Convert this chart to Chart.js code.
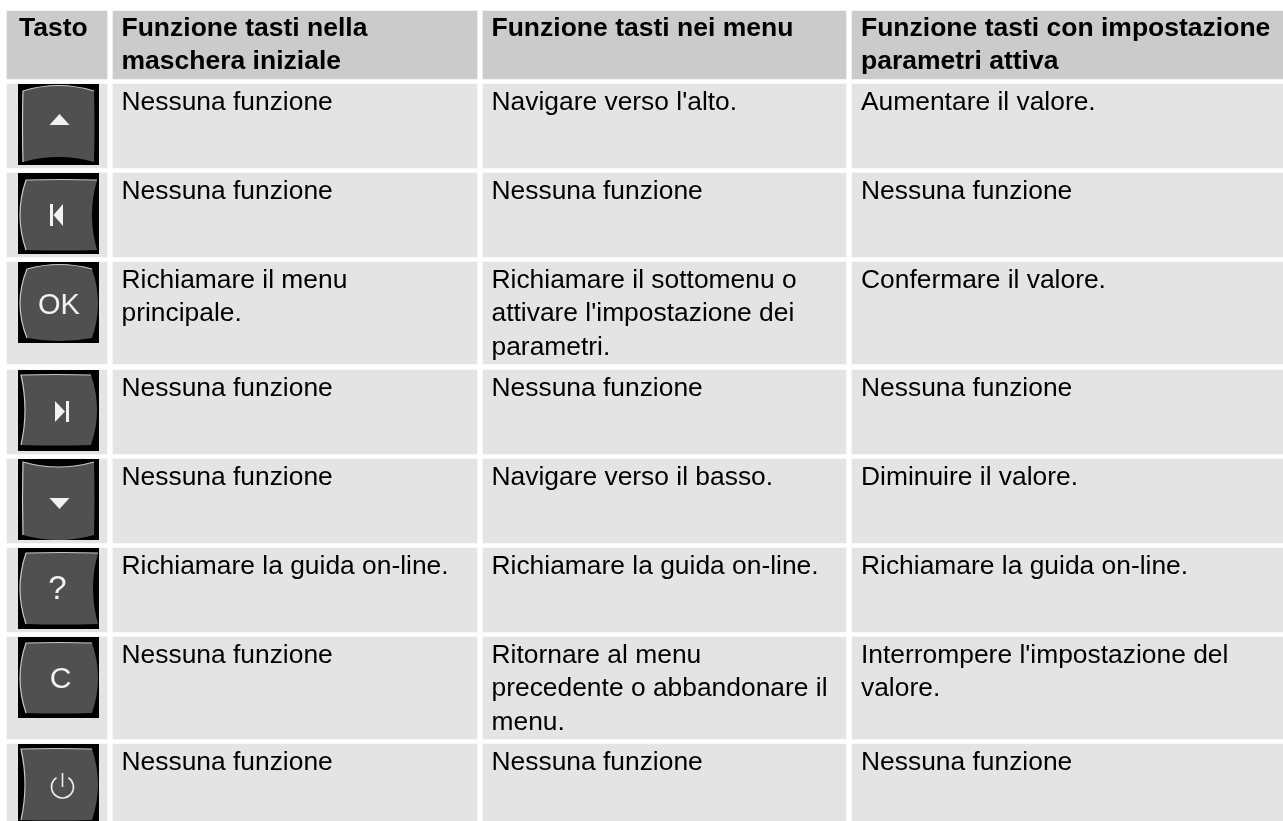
<!DOCTYPE html>
<html>
<head>
<meta charset="utf-8">
<title>Funzione tasti</title>
<style>
html, body { margin: 0; padding: 0; background: #fff; }
#wrap { position: relative; width: 1283px; height: 821px; overflow: hidden; }
</style>
</head>
<body>
<div id="wrap"><canvas id="tableChart" width="1283" height="821"></canvas></div>
<script src="https://cdn.jsdelivr.net/npm/chart.js@4/dist/chart.umd.min.js"></script>
<script>
// table contents
var headers = [
    ['Tasto'],
    ['Funzione tasti nella', 'maschera iniziale'],
    ['Funzione tasti nei menu'],
    ['Funzione tasti con impostazione', 'parametri attiva']
];
var keys = ['up', 'first', 'OK', 'last', 'down', '?', 'C', 'power'];
var startScreen = [
    ['Nessuna funzione'],
    ['Nessuna funzione'],
    ['Richiamare il menu', 'principale.'],
    ['Nessuna funzione'],
    ['Nessuna funzione'],
    ['Richiamare la guida on-line.'],
    ['Nessuna funzione'],
    ['Nessuna funzione']
];
var inMenus = [
    ["Navigare verso l'alto."],
    ['Nessuna funzione'],
    ['Richiamare il sottomenu o', "attivare l'impostazione dei", 'parametri.'],
    ['Nessuna funzione'],
    ['Navigare verso il basso.'],
    ['Richiamare la guida on-line.'],
    ['Ritornare al menu', 'precedente o abbandonare il', 'menu.'],
    ['Nessuna funzione']
];
var inEditing = [
    ['Aumentare il valore.'],
    ['Nessuna funzione'],
    ['Confermare il valore.'],
    ['Nessuna funzione'],
    ['Diminuire il valore.'],
    ['Richiamare la guida on-line.'],
    ["Interrompere l'impostazione del", 'valore.'],
    ['Nessuna funzione']
];

// grid layout, same units as the pixels of the page
var colEdges = [[7, 107], [113, 477], [483, 846], [852, 1283]];
var rowEdges = [[11, 79], [84, 168], [173, 257], [262, 364], [370, 454], [459, 543], [548, 632], [637, 739], [744, 821]];
var textXs = [19, 121.5, 491.5, 861];
var HEADER_BG = '#cbcbcb';
var CELL_BG = '#e4e4e4';
var FONT = '"Liberation Sans", Arial, sans-serif';
var FONT_SIZE = 26.4;
var HEADER_FONT_SIZE = 26.5;
var LINE_H = 33.3;

// key outline inside its 81px black square: l, r, t, b corners, then bulge of top, right, bottom, left
var keyShapes = {
    up: [5, 76, 7, 78, 5.5, 0.5, -5, 0.5],
    first: [8, 79, 7, 77, 0.5, -5, 0.5, 6],
    OK: [9, 74, 7, 76, 4.5, 6, 3, 7],
    last: [3, 73, 5, 75, 0.5, 6, 0.5, -4],
    down: [5, 76, 3, 76, -5, 0.5, 5, 0.5],
    '?': [8, 80, 5, 76, 0.5, -5, 0.5, 6],
    C: [8, 74, 6, 76, 0.5, 6, 0.5, 6],
    power: [3, 74, 5, 76, 0.5, 6, 0.5, -4]
};

function drawKeyBody(ctx, x, y, s) {
    var l = x + s[0], r = x + s[1], t = y + s[2], b = y + s[3];
    var midX = (l + r) / 2, midY = (t + b) / 2;
    ctx.beginPath();
    ctx.moveTo(l, t);
    ctx.quadraticCurveTo(midX, t - s[4] * 2, r, t);
    ctx.quadraticCurveTo(r + s[5] * 2, midY, r, b);
    ctx.quadraticCurveTo(midX, b + s[6] * 2, l, b);
    ctx.quadraticCurveTo(l - s[7] * 2, midY, l, t);
    ctx.closePath();
    ctx.fillStyle = '#505050';
    ctx.fill();
    // light rim on top and left only
    ctx.beginPath();
    ctx.moveTo(r, t);
    ctx.quadraticCurveTo(midX, t - s[4] * 2, l, t);
    ctx.quadraticCurveTo(l - s[7] * 2, midY, l, b);
    ctx.strokeStyle = '#c8c8c8';
    ctx.lineWidth = 1.2;
    ctx.stroke();
}

function drawGlyph(ctx, key, x, y) {
    ctx.fillStyle = '#f2f2f2';
    ctx.strokeStyle = '#eeeeee';
    ctx.lineWidth = 1.6;
    ctx.textAlign = 'center';
    ctx.textBaseline = 'middle';
    if (key === 'up') {
        ctx.beginPath();
        ctx.moveTo(x + 31.5, y + 41);
        ctx.lineTo(x + 51.5, y + 41);
        ctx.lineTo(x + 41.5, y + 30);
        ctx.fill();
    } else if (key === 'down') {
        ctx.beginPath();
        ctx.moveTo(x + 31.5, y + 39);
        ctx.lineTo(x + 51.5, y + 39);
        ctx.lineTo(x + 41.5, y + 50);
        ctx.fill();
    } else if (key === 'first') {
        ctx.fillRect(x + 32, y + 31, 3, 22);
        ctx.beginPath();
        ctx.moveTo(x + 45, y + 31);
        ctx.lineTo(x + 45, y + 53);
        ctx.lineTo(x + 35.5, y + 42);
        ctx.fill();
    } else if (key === 'last') {
        ctx.fillRect(x + 48, y + 31, 3, 21);
        ctx.beginPath();
        ctx.moveTo(x + 37, y + 31);
        ctx.lineTo(x + 37, y + 52);
        ctx.lineTo(x + 47, y + 41.5);
        ctx.fill();
    } else if (key === 'power') {
        ctx.beginPath();
        ctx.arc(x + 44.5, y + 43, 11, -1.0, Math.PI + 1.0);
        ctx.stroke();
        ctx.beginPath();
        ctx.moveTo(x + 44.5, y + 29);
        ctx.lineTo(x + 44.5, y + 43);
        ctx.stroke();
    } else if (key === 'OK') {
        ctx.font = '29px ' + FONT;
        ctx.fillText(key, x + 41, y + 44);
    } else if (key === '?') {
        ctx.font = '33px ' + FONT;
        ctx.fillText(key, x + 39.5, y + 42);
    } else {
        ctx.font = '30px ' + FONT;
        ctx.fillText(key, x + 42.5, y + 43);
    }
}

function drawKey(ctx, key, x, y) {
    ctx.save();
    ctx.beginPath();
    ctx.rect(x, y, 81, 81);
    ctx.clip();
    ctx.fillStyle = '#000000';
    ctx.fillRect(x, y, 81, 81);
    drawKeyBody(ctx, x, y, keyShapes[key]);
    drawGlyph(ctx, key, x, y);
    ctx.restore();
}

var tablePlugin = {
    id: 'tablePlugin',
    afterDatasetsDraw: function (chart) {
        var ctx = chart.ctx;
        var xs = chart.scales.x;
        var ys = chart.scales.y;

        function writeLines(lines, top, bold, textX) {
            ctx.font = bold ? 'bold ' + HEADER_FONT_SIZE + 'px ' + FONT : FONT_SIZE + 'px ' + FONT;
            ctx.fillStyle = '#000000';
            ctx.textAlign = 'left';
            ctx.textBaseline = 'alphabetic';
            lines.forEach(function (line, i) {
                ctx.fillText(line, xs.getPixelForValue(textX), ys.getPixelForValue(top + 26 + i * LINE_H));
            });
        }

        ctx.save();
        // the source is a soft, scaled up scan
        ctx.filter = 'blur(0.4px)';
        headers.forEach(function (lines, c) {
            writeLines(lines, 10, true, textXs[c]);
        });
        keys.forEach(function (key, r) {
            var top = rowEdges[r + 1][0];
            drawKey(ctx, key, xs.getPixelForValue(18), ys.getPixelForValue(top));
            writeLines(startScreen[r], top, false, textXs[1]);
            writeLines(inMenus[r], top, false, textXs[2]);
            writeLines(inEditing[r], top, false, textXs[3]);
        });
        ctx.restore();
    }
};

// one dataset per table row, every cell is a floating bar
var datasets = rowEdges.map(function (edge, r) {
    return {
        label: r === 0 ? 'header' : keys[r - 1],
        data: colEdges.map(function (col) {
            return { x: col, y: (edge[0] + edge[1]) / 2 };
        }),
        barThickness: edge[1] - edge[0],
        backgroundColor: r === 0 ? HEADER_BG : CELL_BG,
        borderWidth: 0,
        grouped: false
    };
});

new Chart(document.getElementById('tableChart').getContext('2d'), {
    type: 'bar',
    data: { datasets: datasets },
    plugins: [tablePlugin],
    options: {
        indexAxis: 'y',
        responsive: false,
        animation: false,
        layout: { padding: 0 },
        plugins: { legend: { display: false }, tooltip: { enabled: false }, title: { display: false } },
        scales: {
            x: { type: 'linear', min: 0, max: 1283, display: false },
            y: { type: 'linear', min: 0, max: 821, reverse: true, display: false, offset: false }
        }
    }
});
</script>
</body>
</html>
